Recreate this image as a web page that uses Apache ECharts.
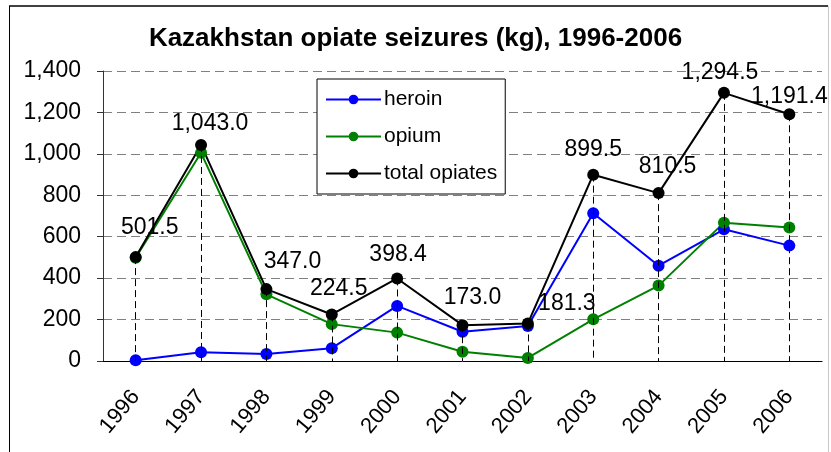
<!DOCTYPE html>
<html>
<head>
<meta charset="utf-8">
<script src="https://cdn.jsdelivr.net/npm/echarts@6/dist/echarts.min.js"></script>
<style>
  html, body { margin: 0; padding: 0; background: #fff; }
  #chart { width: 831px; height: 452px; }
</style>
</head>
<body>
<div id="chart"></div>
<script>
// 데이터
var years = ['1996', '1997', '1998', '1999', '2000', '2001', '2002', '2003', '2004', '2005', '2006'];
var heroin = [4, 42, 34, 62, 266, 141, 169, 713, 460, 636, 557];
var opium = [498, 1005, 322, 178, 137, 45, 15, 201, 364, 668, 645];
var total = [501.5, 1043.0, 347.0, 224.5, 398.4, 173.0, 181.3, 899.5, 810.5, 1294.5, 1191.4];
var yMin = 0, yMax = 1400, yStep = 200;

// 라벨 위치 보정 (픽셀)
var labelShift = [[14, -29], [9, -21], [26, -27], [7, -26], [1, -24], [10, -28],
                  [39, -20], [0, -25], [9, -26], [-4, -20], [0, -18]];

var font = "'Liberation Sans', Arial, sans-serif";

var makeSeries = function(name, values, color) {
  return {
    name: name,
    type: 'line',
    data: values,
    symbol: 'circle',
    symbolSize: 12,
    itemStyle: { color: color },
    lineStyle: { color: color, width: 2 }
  };
};

var totalData = total.map(function(v, i) {
  return { value: v, label: { offset: labelShift[i] } };
});

var myChart = echarts.init(document.getElementById('chart'));

var totalSeries = makeSeries('total opiates', totalData, '#000000');
// 총량 점에서 x축까지 내리는 점선
totalSeries.markLine = {
  silent: true,
  symbol: 'none',
  label: { show: false },
  lineStyle: { color: '#000', width: 1, type: [7, 4] },
  data: total.map(function(v, i) {
    return [{ coord: [i, v] }, { coord: [i, 0] }];
  })
};
totalSeries.label = {
  show: true,
  position: 'inside',
  fontSize: 23,
  color: '#000',
  fontFamily: font,
  formatter: function(p) {
    return p.value.toLocaleString('en-US', { minimumFractionDigits: 1, maximumFractionDigits: 1 });
  }
};

var option = {
  animation: false,
  backgroundColor: '#fff',
  textStyle: { fontFamily: font },
  title: {
    text: 'Kazakhstan opiate seizures (kg), 1996-2006',
    left: 'center',
    top: 21,
    textStyle: { fontFamily: font, fontSize: 26, fontWeight: 'bold', color: '#000' }
  },
  grid: { left: 103, right: 9, top: 71, bottom: 91 },
  legend: {
    orient: 'vertical',
    left: 317,
    top: 79,
    padding: [10, 8, 10, 8],
    itemGap: 16,
    itemWidth: 55,
    itemHeight: 12,
    borderColor: '#000',
    borderWidth: 1,
    backgroundColor: '#fff',
    textStyle: { fontFamily: font, fontSize: 21, color: '#000', padding: [0, 0, 0, -2] },
    data: ['heroin', 'opium', 'total opiates']
  },
  xAxis: {
    type: 'category',
    data: years,
    boundaryGap: true,
    axisLine: { lineStyle: { color: '#000', width: 1 } },
    axisTick: { length: 6, lineStyle: { color: '#000' } },
    axisLabel: { rotate: 50, margin: 32, fontSize: 22, color: '#000', fontFamily: font }
  },
  yAxis: {
    type: 'value',
    min: yMin,
    max: yMax,
    interval: yStep,
    axisLine: { show: true, lineStyle: { color: '#333', width: 1 } },
    axisTick: { show: true, length: 6, lineStyle: { color: '#333' } },
    axisLabel: {
      margin: 22,
      fontSize: 23,
      color: '#000',
      fontFamily: font,
      formatter: function(v) { return v.toLocaleString('en-US'); }
    },
    splitLine: { lineStyle: { color: '#808080', width: 1, type: [9, 5] } }
  },
  graphic: [
    { type: 'line', silent: true, shape: { x1: 9, y1: 6, x2: 828, y2: 6 }, style: { stroke: '#404040', lineWidth: 2 } },
    { type: 'line', silent: true, shape: { x1: 9.5, y1: 6, x2: 9.5, y2: 452 }, style: { stroke: '#000', lineWidth: 1 } },
    { type: 'line', silent: true, shape: { x1: 828.5, y1: 6, x2: 828.5, y2: 452 }, style: { stroke: '#c8c8c8', lineWidth: 1 } }
  ],
  series: [
    makeSeries('heroin', heroin, '#0000ff'),
    makeSeries('opium', opium, '#008000'),
    totalSeries
  ]
};

myChart.setOption(option);
</script>
</body>
</html>
